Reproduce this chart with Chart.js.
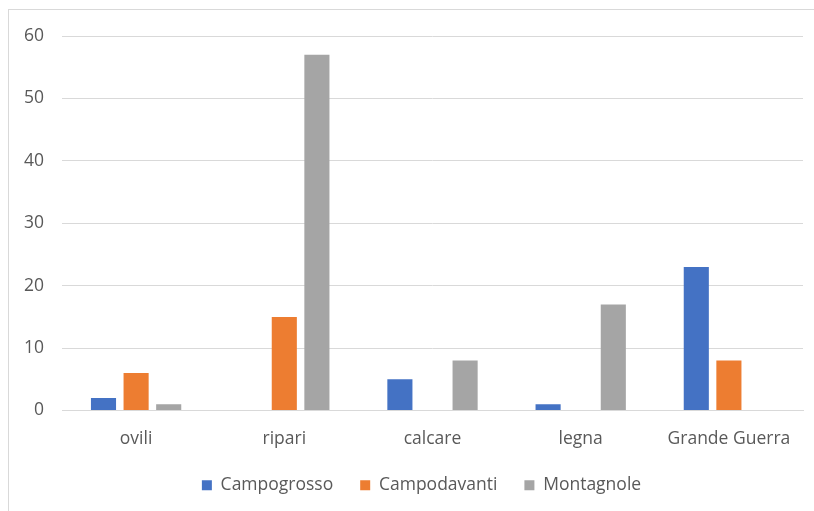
<!DOCTYPE html>
<html>
<head>
<meta charset="utf-8">
<script src="https://cdn.jsdelivr.net/npm/chart.js@4/dist/chart.umd.min.js"></script>
<style>
  html, body { margin: 0; padding: 0; background: #fff; }
  #wrap { position: relative; width: 814px; height: 511px; overflow: hidden; }
  #frame { position: absolute; left: 8px; top: 9px; width: 900px; height: 600px;
           border-left: 1px solid #d9d9d9; border-top: 1px solid #d9d9d9; box-sizing: border-box; }
  canvas { position: absolute; left: 0; top: 0; }
</style>
</head>
<body>
<div id="wrap">
  <div id="frame"></div>
  <canvas id="c" width="814" height="511"></canvas>
</div>
<script>
const categories = ["ovili", "ripari", "calcare", "legna", "Grande Guerra"];
const seriesNames = ["Campogrosso", "Campodavanti", "Montagnole"];
const campogrosso = [2, 0, 5, 1, 23];
const campodavanti = [6, 15, 0, 0, 8];
const montagnole = [1, 57, 8, 17, 0];
const yTicks = [0, 10, 20, 30, 40, 50, 60];
const colors = ["#4472C4", "#ED7D31", "#A5A5A5"];

const font = { family: "'Open Sans', sans-serif", size: 17.5 };
const textColor = "#595959";

const shiftLegend = {
  id: "shiftLegend",
  afterLayout(chart) { if (chart.legend) chart.legend.left += 40; }
};

new Chart(document.getElementById("c"), {
  type: "bar",
  data: {
    labels: categories,
    datasets: [campogrosso, campodavanti, montagnole].map((d, i) => ({
      label: seriesNames[i],
      data: d,
      backgroundColor: colors[i],
      borderWidth: 0,
      categoryPercentage: 0.66,
      barPercentage: 0.77
    }))
  },
  plugins: [shiftLegend],
  options: {
    responsive: false,
    animation: false,
    layout: { padding: { top: 36, right: 11, bottom: 7, left: 0 } },
    plugins: {
      tooltip: { enabled: false },
      legend: {
        position: "bottom",
        labels: {
          font: font, color: textColor,
          boxWidth: 10, boxHeight: 10, padding: 27
        }
      }
    },
    scales: {
      x: {
        grid: { display: false },
        border: { display: true, color: "#d9d9d9", width: 1 },
        ticks: { font: font, color: textColor, padding: 10 },
        afterFit: s => { s.height = 39; }
      },
      y: {
        min: 0, max: 60,
        afterBuildTicks: s => { s.ticks = yTicks.map(v => ({ value: v })); },
        grid: { color: "#d9d9d9", drawTicks: false },
        border: { display: false },
        ticks: { font: font, color: textColor, padding: 18 },
        afterFit: s => { s.width = 62; }
      }
    }
  }
});
</script>
</body>
</html>
